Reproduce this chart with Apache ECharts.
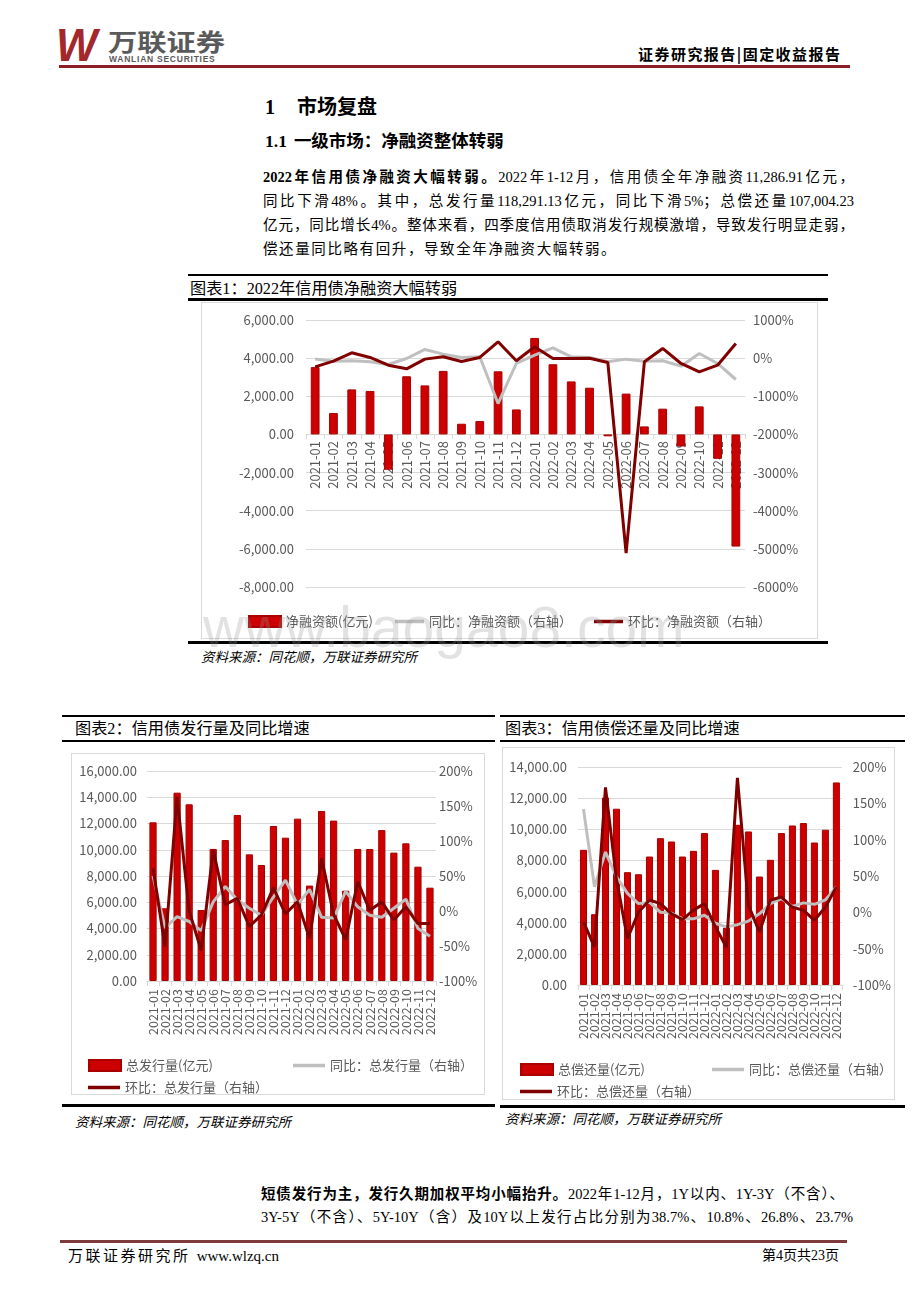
<!DOCTYPE html>
<html>
<head>
<meta charset="utf-8">
<script src="https://cdn.jsdelivr.net/npm/echarts@6/dist/echarts.min.js"></script>
<style>
html,body{margin:0;padding:0;background:#fff;}
body{width:920px;height:1302px;position:relative;overflow:hidden;font-family:"Liberation Serif","Noto Sans CJK SC",serif;color:#000;}
.a{position:absolute;}
.nw{white-space:nowrap;}
.j{text-align:justify;text-align-last:justify;white-space:normal;}
.ln{position:absolute;background:#000;}
.box{position:absolute;border:1px solid #D9D9D9;background:#fff;}
.src{position:absolute;font-style:italic;font-size:13.5px;font-family:"Noto Sans CJK SC",sans-serif;white-space:nowrap;color:#000;}
.ttl{position:absolute;font-size:16.2px;font-family:"Liberation Serif","Noto Sans CJK SC",serif;white-space:nowrap;line-height:20px;}
.p{font-size:14.5px;line-height:24px;}
</style>
</head>
<body>
<!-- header -->
<div class="a nw" style="left:56px;top:18px;font:italic bold 46px 'Liberation Sans',sans-serif;color:#A3282B;letter-spacing:-6px;transform:scaleX(0.95);transform-origin:left;">W</div>
<div class="a nw" style="left:108px;top:26px;font:bold 24px 'Noto Sans CJK SC',sans-serif;color:#5a5a5a;line-height:30px;transform:scaleX(1.22);transform-origin:left;">万联证券</div>
<div class="a nw" style="left:109px;top:54px;font:bold 8.5px 'Liberation Sans',sans-serif;color:#5a5a5a;letter-spacing:0.75px;line-height:10px;">WANLIAN SECURITIES</div>
<div class="a j" style="left:638px;top:44px;width:202px;font:bold 15px 'Noto Sans CJK SC',sans-serif;line-height:20px;">证券研究报告|固定收益报告</div>
<div class="ln" style="left:59px;top:65px;width:791px;height:2.5px;background:#8E1F22;"></div>

<!-- headings -->
<div class="a nw" style="left:265px;top:94px;font:bold 20px 'Liberation Serif','Noto Sans CJK SC',serif;line-height:26px;">1<span style="display:inline-block;width:22px"></span>市场复盘</div>
<div class="a nw" style="left:265px;top:129px;font:bold 17.5px 'Liberation Serif','Noto Sans CJK SC',serif;line-height:24px;">1.1<span style="display:inline-block;width:7px"></span>一级市场：净融资整体转弱</div>

<!-- paragraph -->
<div class="a j p" style="left:263px;top:165px;width:591px;"><b>2022年信用债净融资大幅转弱。</b>2022年1-12月，信用债全年净融资11,286.91亿元，</div>
<div class="a j p" style="left:263px;top:189px;width:591px;">同比下滑48%。其中，总发行量118,291.13亿元，同比下滑5%；总偿还量107,004.23</div>
<div class="a j p" style="left:263px;top:213px;width:591px;">亿元，同比增长4%。整体来看，四季度信用债取消发行规模激增，导致发行明显走弱，</div>
<div class="a nw p" style="left:263px;top:237px;letter-spacing:1.6px;">偿还量同比略有回升，导致全年净融资大幅转弱。</div>

<!-- chart 1 -->
<div class="ln" style="left:188px;top:274px;width:640px;height:2px;"></div>
<div class="ttl" style="left:190px;top:279px;">图表1：2022年信用债净融资大幅转弱</div>
<div class="ln" style="left:188px;top:298px;width:640px;height:2.5px;"></div>
<div class="box" style="left:201px;top:302px;width:615px;height:335px;"><div id="c1" style="width:615px;height:335px;"></div></div>
<div class="ln" style="left:188px;top:641px;width:640px;height:2.5px;"></div>
<div class="src" style="left:201px;top:646px;">资料来源：同花顺，万联证券研究所</div>

<!-- chart 2 -->
<div class="ln" style="left:62px;top:715px;width:433px;height:2px;"></div>
<div class="ttl" style="left:75px;top:719px;">图表2：信用债发行量及同比增速</div>
<div class="ln" style="left:62px;top:740px;width:433px;height:2px;"></div>
<div class="box" style="left:71px;top:753px;width:412px;height:340px;"><div id="c2" style="width:412px;height:340px;"></div></div>
<div class="ln" style="left:62px;top:1104px;width:433px;height:2.5px;"></div>
<div class="src" style="left:75px;top:1111px;">资料来源：同花顺，万联证券研究所</div>

<!-- chart 3 -->
<div class="ln" style="left:500px;top:715px;width:405px;height:2px;"></div>
<div class="ttl" style="left:505px;top:719px;">图表3：信用债偿还量及同比增速</div>
<div class="ln" style="left:500px;top:740px;width:405px;height:2px;"></div>
<div class="box" style="left:502px;top:747px;width:391px;height:351px;"><div id="c3" style="width:391px;height:351px;"></div></div>
<div class="ln" style="left:500px;top:1105px;width:405px;height:2.5px;"></div>
<div class="src" style="left:505px;top:1108px;">资料来源：同花顺，万联证券研究所</div>

<!-- watermark -->
<div class="a nw" style="left:203px;top:594px;font:57px 'Liberation Sans',sans-serif;color:rgba(150,150,150,0.28);line-height:66px;pointer-events:none;z-index:5;">www.baogao8.com</div>

<!-- final paragraph -->
<div class="a j p" style="left:261px;top:1182px;width:583px;"><b>短债发行为主，发行久期加权平均小幅抬升。</b>2022年1-12月，1Y以内、1Y-3Y（不含）、</div>
<div class="a j p" style="left:261px;top:1205px;width:592px;">3Y-5Y（不含）、5Y-10Y（含）及10Y以上发行占比分别为38.7%、10.8%、26.8%、23.7%</div>

<!-- footer -->
<div class="ln" style="left:60px;top:1240px;width:787px;height:2.5px;background:#7E3B3B;"></div>
<div class="a j" style="left:68px;top:1246px;width:211px;font-size:15px;line-height:20px;">万联证券研究所 www.wlzq.cn</div>
<div class="a j" style="left:762px;top:1246px;width:77px;font-size:14px;line-height:20px;">第4页共23页</div>

<script>
const categories = ['2021-01','2021-02','2021-03','2021-04','2021-05','2021-06','2021-07','2021-08','2021-09','2021-10','2021-11','2021-12',
                    '2022-01','2022-02','2022-03','2022-04','2022-05','2022-06','2022-07','2022-08','2022-09','2022-10','2022-11','2022-12'];

const netFinancing    = [3530,1120,2360,2280,-1850,3050,2570,3330,560,700,3310,1310,5060,3680,2780,2450,-100,2140,420,1350,-630,1470,-1280,-5880];
const netFinancingYoY = [-25,-80,-70,-95,-166,-10,228,105,18,35,-1190,-140,80,270,35,18,-95,-26,-79,-70,-210,122,-140,-560];
const netFinancingMoM = [-228,-79,140,18,-184,-280,-26,35,-87,18,428,-70,297,-9,-9,-5,-114,-5110,-96,254,-140,-359,-184,385];

const issuance    = [12090,5540,14350,13460,5410,10060,10740,12650,9650,8840,11810,10920,12370,7270,12950,12220,6880,10060,10060,11500,9780,10490,8710,7110];
const issuanceYoY = [50,-24,-8,-15,-28,13,35,16,4,-6,20,44,9,31,-9,-10,28,6,-6,-9,4,17,-25,-36];
const issuanceMoM = [61,-51,163,0,-56,87,9,18,-22,-6,33,-4,13,-39,75,-5,-41,42,1,13,-13,6,-18,-18];

const repayment    = [8680,4545,12040,11320,7245,7115,8250,9430,9215,8250,8615,9755,7395,3685,10290,9860,6965,8040,9755,10245,10400,9150,9970,13010];
const repaymentYoY = [142,35,83,49,26,12,14,0,-1,-9,-9,-4,-15,-20,-17,-12,-2,12,19,8,13,11,17,35];
const repaymentMoM = [-13,-48,172,45,-36,0,17,12,-2,-10,3,12,-20,-48,185,10,-27,17,21,7,3,-11,7,35];

const names1 = ['净融资额(亿元)','同比：净融资额（右轴）','环比：净融资额（右轴）'];
const names2 = ['总发行量(亿元)','同比：总发行量（右轴）','环比：总发行量（右轴）'];
const names3 = ['总偿还量(亿元)','同比：总偿还量（右轴）','环比：总偿还量（右轴）'];

const FONT = "'Noto Sans CJK SC', sans-serif";
const LABEL = '#595959';
const GRIDC = '#D9D9D9';
const BAR = '#CC0000';
const GRAY = '#BFBFBF';
const DARK = '#800000';

function fmt(v){ return v.toLocaleString('en-US',{minimumFractionDigits:2,maximumFractionDigits:2}); }
function pct(v){ return String(v) + '%'; }

function catAxis(c, gridIndex){
  return {
    type:'category', data:categories, gridIndex:gridIndex,
    axisLine:{lineStyle:{color:GRIDC}},
    axisTick:{show:true, lineStyle:{color:GRIDC}},
    axisLabel:{rotate:90, interval:0, color:LABEL, fontSize:c.catFont, margin:c.catMargin, fontFamily:FONT}
  };
}

function build(c){
  const lg = c.legend;
  const grids = [{left:c.grid[0], right:c.grid[1], top:c.grid[2], bottom:c.grid[3]}];
  const xAxes = [];
  const yAxes = [
    {type:'value', gridIndex:0, min:c.left[0], max:c.left[1], interval:c.left[2],
     axisLine:{show:false}, axisTick:{show:false},
     splitLine:{lineStyle:{color:GRIDC}},
     axisLabel:{color:LABEL, fontSize:c.tickFont, margin:c.lm, formatter:fmt, fontFamily:FONT}},
    {type:'value', gridIndex:0, min:c.right[0], max:c.right[1], interval:c.right[2],
     axisLine:{show:false}, axisTick:{show:false}, splitLine:{show:false},
     axisLabel:{color:LABEL, fontSize:c.tickFont, margin:c.rm, formatter:pct, fontFamily:FONT}}
  ];
  if (c.zeroBottom != null) {
    // category axis drawn along the zero line of the left axis: a second grid ending at zero
    grids.push({left:c.grid[0], right:c.grid[1], top:c.grid[2], bottom:c.zeroBottom});
    xAxes.push(Object.assign(catAxis(c,0), {show:false}));
    xAxes.push(catAxis(c,1));
    yAxes.push({type:'value', gridIndex:1, min:0, max:1, show:false, splitLine:{show:false}});
  } else {
    xAxes.push(catAxis(c,0));
  }
  return {
    animation:false,
    textStyle:{fontFamily:FONT},
    grid:grids,
    legend:[
      {data:[c.names[0]], left:lg[0][0], top:lg[0][1], icon:'rect', itemWidth:lg[0][2], itemHeight:11, selectedMode:false,
       textStyle:{color:LABEL, fontSize:c.lgFont, fontFamily:FONT}},
      {data:[c.names[1]], left:lg[1][0], top:lg[1][1], icon:'rect', itemWidth:lg[1][2], itemHeight:3.5, selectedMode:false,
       textStyle:{color:LABEL, fontSize:c.lgFont, fontFamily:FONT}},
      {data:[c.names[2]], left:lg[2][0], top:lg[2][1], icon:'rect', itemWidth:lg[2][2], itemHeight:3.5, selectedMode:false,
       textStyle:{color:LABEL, fontSize:c.lgFont, fontFamily:FONT}}
    ],
    xAxis:xAxes,
    yAxis:yAxes,
    series:[
      {name:c.names[0], type:'bar', xAxisIndex:0, yAxisIndex:0, data:c.bar, barWidth:c.barWidth,
       itemStyle:{color:BAR, borderColor:'#A80000', borderWidth:1}},
      {name:c.names[1], type:'line', xAxisIndex:0, yAxisIndex:1, data:c.yoy, symbol:'none',
       lineStyle:{color:GRAY, width:3}, itemStyle:{color:GRAY}},
      {name:c.names[2], type:'line', xAxisIndex:0, yAxisIndex:1, data:c.mom, symbol:'none',
       lineStyle:{color:DARK, width:3}, itemStyle:{color:DARK}}
    ]
  };
}

const ch1 = echarts.init(document.getElementById('c1'));
ch1.setOption(build({
  names:names1, bar:netFinancing, yoy:netFinancingYoY, mom:netFinancingMoM,
  grid:[104,72,17,51], zeroBottom:204, left:[-8000,6000,2000], right:[-6000,1000,1000],
  lm:12, rm:8, tickFont:13, catFont:13, catMargin:7, lgFont:13, barWidth:'48%',
  legend:[[41,307,32],[188,307,29],[387,307,29]]
}));

const ch2 = echarts.init(document.getElementById('c2'));
ch2.setOption(build({
  names:names2, bar:issuance, yoy:issuanceYoY, mom:issuanceMoM,
  grid:[75,48,17,113], left:[0,16000,2000], right:[-100,200,50],
  lm:10, rm:3, tickFont:13, catFont:12.5, catMargin:8, lgFont:13, barWidth:'60%',
  legend:[[11,300,32],[216,300,32],[11,322,32]]
}));

const ch3 = echarts.init(document.getElementById('c3'));
ch3.setOption(build({
  names:names3, bar:repayment, yoy:repaymentYoY, mom:repaymentMoM,
  grid:[75,47,19,114], left:[0,14000,2000], right:[-100,200,50],
  lm:11, rm:11, tickFont:13, catFont:12.5, catMargin:8, lgFont:13, barWidth:'64%',
  legend:[[12,310,32],[204,310,32],[12,332,32]]
}));
</script>
</body>
</html>
